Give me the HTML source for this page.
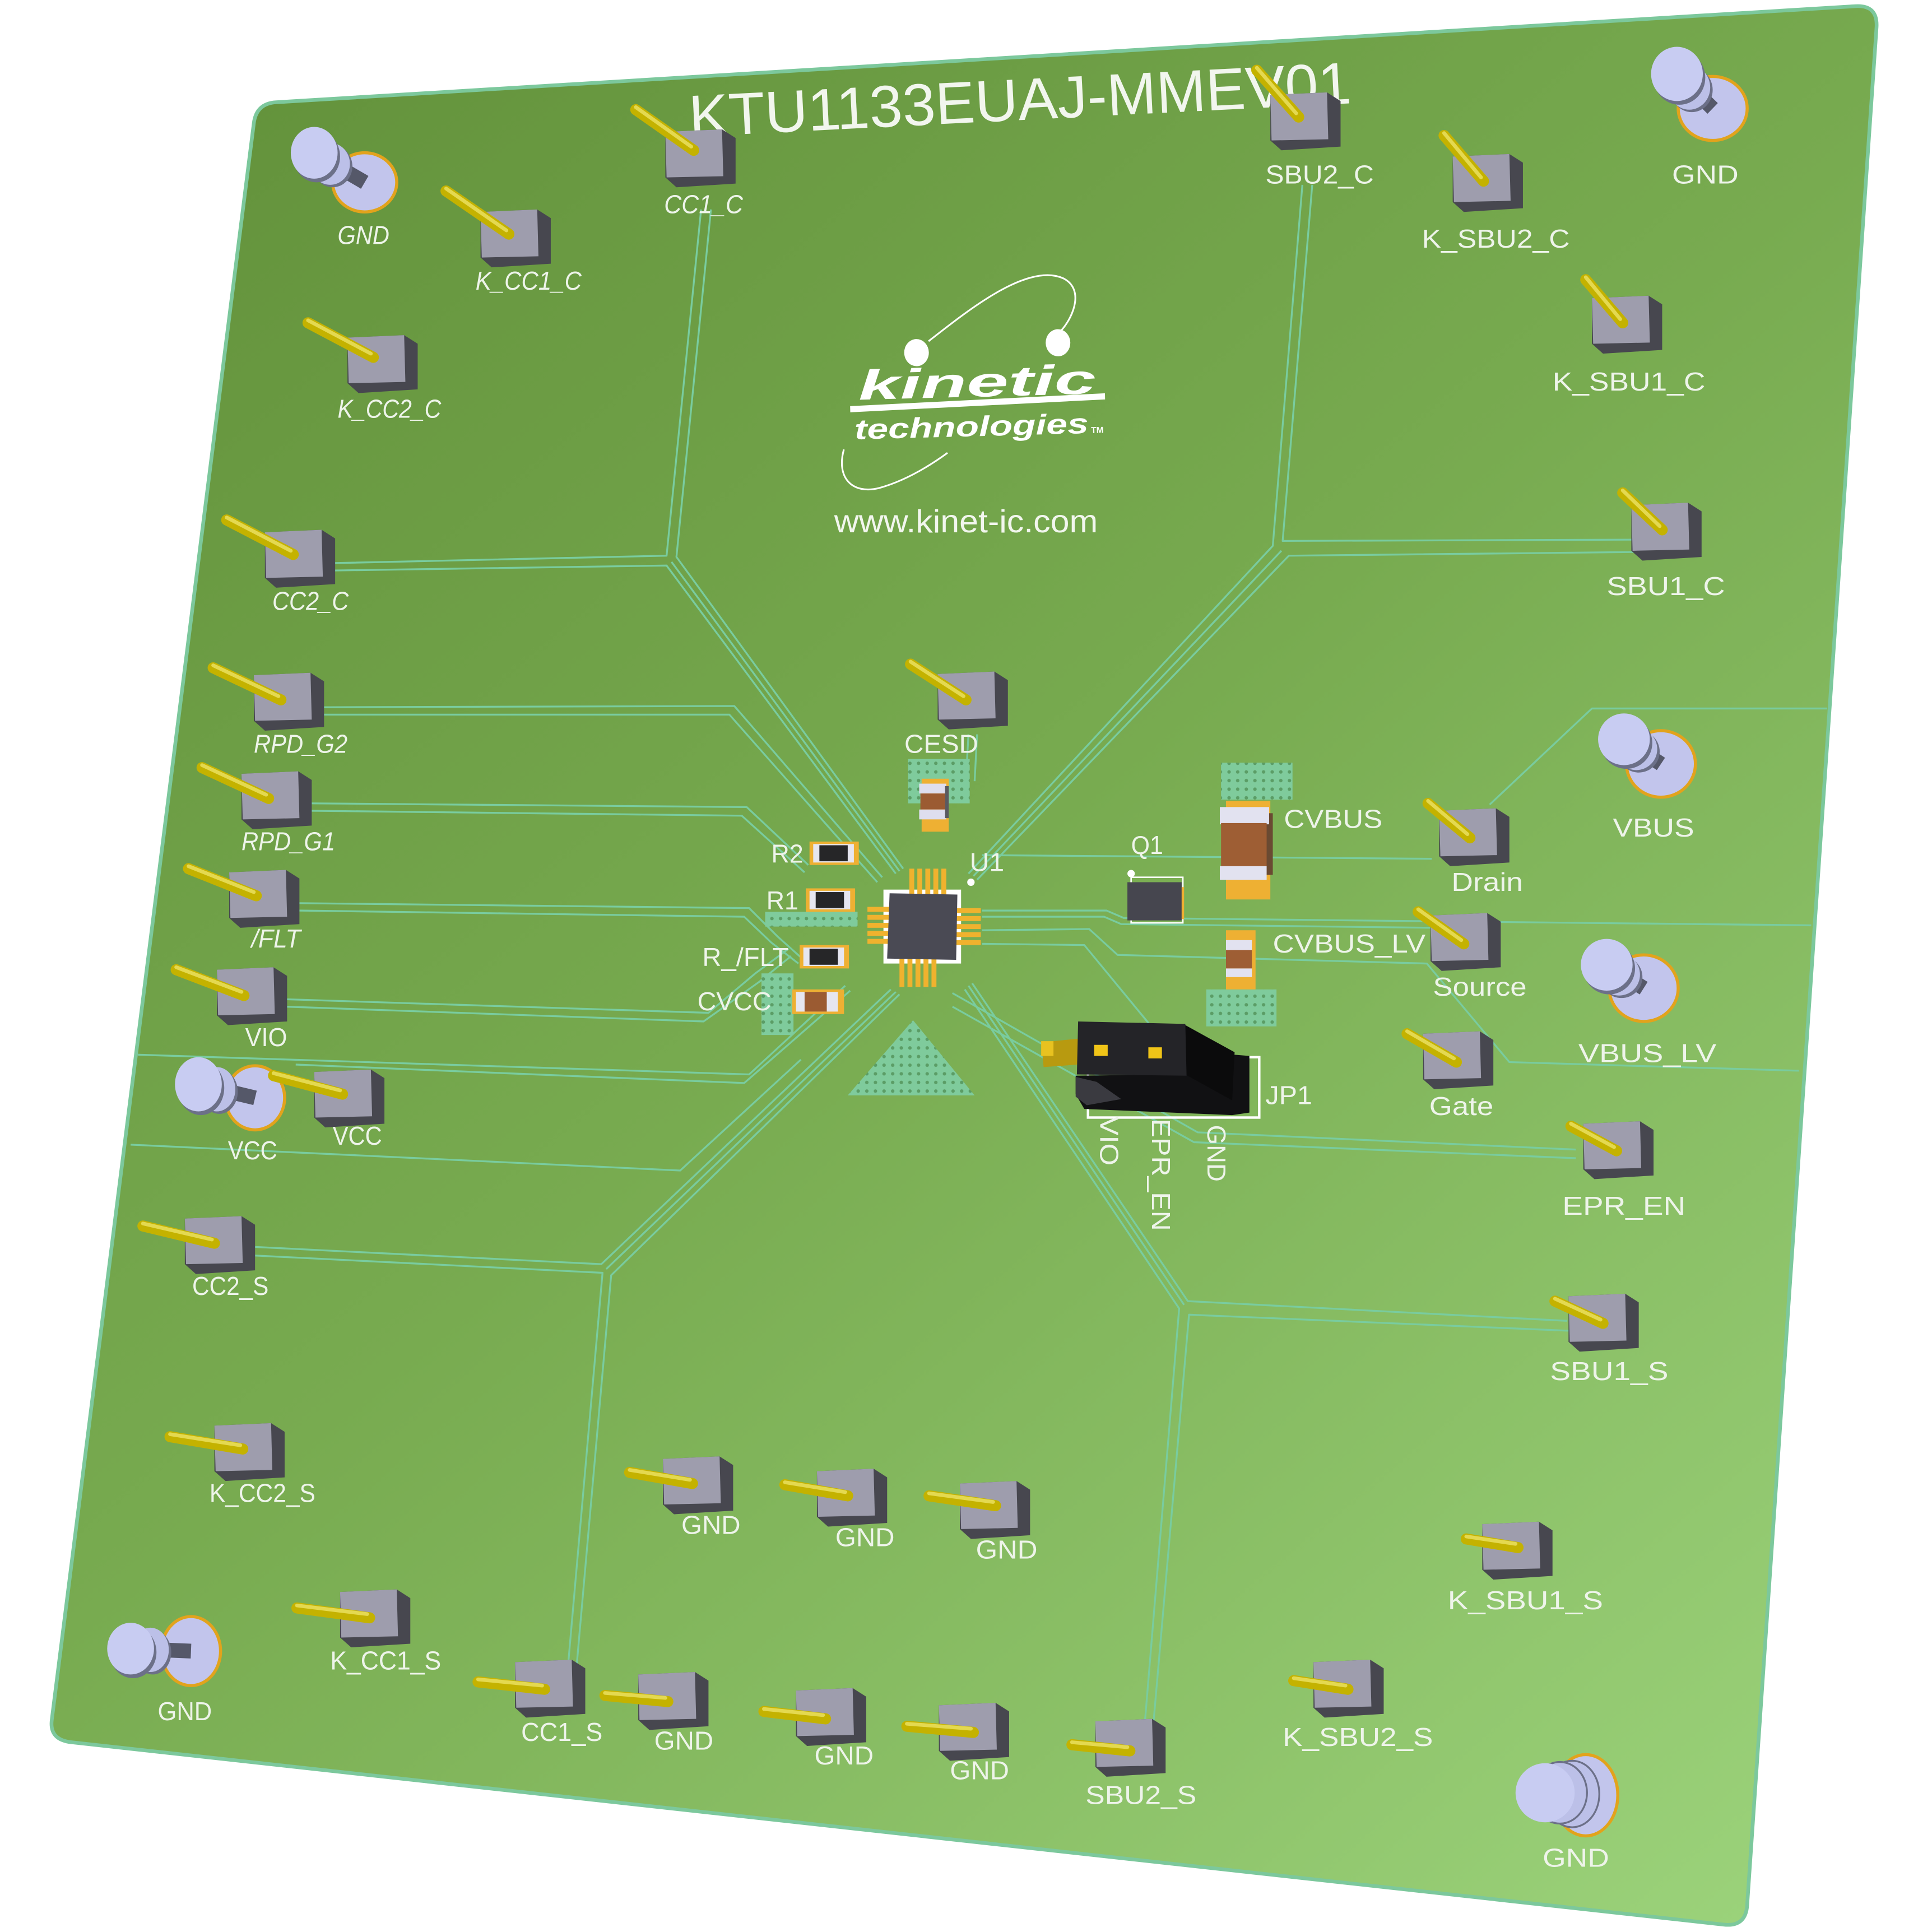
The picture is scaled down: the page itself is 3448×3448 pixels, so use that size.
<!DOCTYPE html>
<html>
<head>
<meta charset="utf-8">
<style>
html,body{margin:0;padding:0;background:#ffffff;}
svg{display:block;}
text{font-family:"Liberation Sans",Arial,sans-serif;}
.lb{fill:#eef4ea;font-size:21px;text-anchor:middle;}
.it{font-style:italic;}
.tr{fill:none;stroke:#79cc9f;stroke-width:1.5;stroke-linejoin:round;}
.pin{stroke:#c4b200;stroke-width:9;stroke-linecap:round;}
.pinh{stroke:#e4d950;stroke-width:3;stroke-linecap:round;}
</style>
</head>
<body>
<svg width="3448" height="3448" viewBox="0 0 1568 1568" xmlns="http://www.w3.org/2000/svg">
<defs>
<linearGradient id="bg" gradientUnits="userSpaceOnUse" x1="200" y1="90" x2="1420" y2="1560">
<stop offset="0" stop-color="#64933c"/>
<stop offset="0.45" stop-color="#78ab50"/>
<stop offset="1" stop-color="#9bd27a"/>
</linearGradient>
<pattern id="vp" width="7" height="7" patternUnits="userSpaceOnUse">
<rect width="7" height="7" fill="#7fcb9c"/>
<circle cx="3.5" cy="3.5" r="1.4" fill="#5b9d66"/>
</pattern>
<g id="hb">
<polygon points="0,2 46,0 57,7 57,44 9,47 0,39" fill="#47474f"/>
<polygon points="0,2 46,0 47,38 1,39" fill="#9e9dad"/>
</g>
</defs>

<!-- board -->
<path d="M 206,100 Q 208,84 224,83 L 1506,5 Q 1524,4 1523,22 L 1418,1546 Q 1417,1564 1399,1562 L 58,1414 Q 40,1412 42,1396 Z" fill="url(#bg)" stroke="#7cc89c" stroke-width="3"/>

<!-- traces -->
<g class="tr">
<polyline points="569,170 541,451 271,457"/>
<polyline points="577,170 549,452 733,705"/>
<polyline points="271,463 541,459 727,709"/>
<polyline points="545,456 730,707"/>
<polyline points="1057,150 1033,443 786,709"/>
<polyline points="1065,150 1041,439 1325,438"/>
<polyline points="1328,448 1046,451 793,714"/>
<polyline points="1040,447 790,711"/>
<polyline points="207,1012 488,1026 723,803"/>
<polyline points="207,1019 489,1033 461,1352"/>
<polyline points="468,1352 496,1035 730,807"/>
<polyline points="492,1030 727,805"/>
<polyline points="789,798 964,1056 1272,1072"/>
<polyline points="783,803 957,1062 929,1400"/>
<polyline points="936,1400 965,1067 1273,1080"/>
<polyline points="786,800 961,1059"/>
<polyline points="261,574 596,573 716,712"/>
<polyline points="261,580 592,580 712,716"/>
<polyline points="253,652 606,655 656,702"/>
<polyline points="253,658 602,662 653,708"/>
<polyline points="243,733 608,737 631,760 650,777"/>
<polyline points="243,739 604,744 626,765 648,782"/>
<polyline points="232,811 575,822 613,790 640,770"/>
<polyline points="232,817 571,829 616,797 642,776"/>
<polyline points="112,856 608,872 686,800"/>
<polyline points="240,864 604,879 690,804"/>
<polyline points="106,929 552,950 650,860"/>
<polyline points="797,694 1162,697"/>
<polyline points="797,739 898,739 912,745 1470,751"/>
<polyline points="797,744 896,744 910,750 1162,753"/>
<polyline points="797,755 884,754 907,775 1158,782 1225,862 1460,869"/>
<polyline points="797,766 880,767 936,835"/>
<polyline points="773,806 972,919 1279,933"/>
<polyline points="773,817 969,927 1279,940"/>
<polyline points="1209,653 1292,575 1483,575"/>
<polyline points="786,596 784,632"/>
<polyline points="793,596 791,634"/>
</g>

<!-- via patches -->
<rect x="737" y="616" width="50" height="36" fill="url(#vp)"/>
<rect x="991" y="619" width="58" height="30" fill="url(#vp)"/>
<rect x="979" y="803" width="57" height="30" fill="url(#vp)"/>
<polygon points="688,889 741,828 791,889" fill="url(#vp)"/>
<rect x="621" y="740" width="75" height="12" fill="url(#vp)"/>
<rect x="618" y="790" width="26" height="50" fill="url(#vp)"/>

<!-- title -->
<text x="560" y="111" transform="rotate(-2.9 560 111)" font-size="48" fill="#f2f6ee" textLength="538" lengthAdjust="spacingAndGlyphs">KTU1133EUAJ-MMEV01</text>

<!-- logo -->
<g fill="#ffffff" transform="rotate(-1.5 790 330)">
<path d="M 755,276 C 790,250 838,214 866,228 C 882,237 874,258 863,270" fill="none" stroke="#ffffff" stroke-width="1.4"/>
<path d="M 684,362 C 677,385 690,399 712,394 C 732,389 752,378 768,367" fill="none" stroke="#ffffff" stroke-width="1.4"/>
<ellipse cx="745" cy="285" rx="10" ry="11"/>
<ellipse cx="860" cy="280" rx="10" ry="11"/>
<text x="697" y="322" font-size="34" font-weight="bold" font-style="italic" textLength="193" lengthAdjust="spacingAndGlyphs">kinetic</text>
<polygon points="690,327 897,322 897,327 690,332"/>
<text x="693" y="354" font-size="23" font-weight="bold" font-style="italic" textLength="190" lengthAdjust="spacingAndGlyphs">technologies</text>
<text x="885" y="354" font-size="7" font-weight="bold">TM</text>
</g>
<text x="677" y="432" font-size="26" fill="#f2f6ee" textLength="214" lengthAdjust="spacingAndGlyphs">www.kinet-ic.com</text>

<!-- SMD parts -->
<!-- CESD cap -->
<rect x="748" y="632" width="22" height="43" fill="#eeb033"/>
<rect x="746" y="636" width="22" height="8" fill="#dedeee"/>
<rect x="747" y="644" width="20" height="13" fill="#9b5b32"/>
<rect x="746" y="657" width="22" height="8" fill="#dedeee"/>
<rect x="767" y="638" width="3" height="26" fill="#5a5a60"/>
<!-- R2 -->
<rect x="657" y="683" width="40" height="19" fill="#eeb033"/>
<rect x="660" y="685" width="33" height="15" fill="#e6e6f0"/>
<rect x="665" y="686" width="23" height="13" fill="#262628"/>
<!-- R1 -->
<rect x="654" y="721" width="40" height="19" fill="#eeb033"/>
<rect x="657" y="723" width="33" height="15" fill="#e6e6f0"/>
<rect x="662" y="724" width="23" height="13" fill="#262628"/>
<!-- R_/FLT -->
<rect x="649" y="767" width="40" height="19" fill="#eeb033"/>
<rect x="652" y="769" width="33" height="15" fill="#e6e6f0"/>
<rect x="657" y="770" width="23" height="13" fill="#262628"/>
<!-- CVCC -->
<rect x="643" y="803" width="42" height="20" fill="#eeb033"/>
<rect x="646" y="805" width="34" height="16" fill="#e6e6f0"/>
<rect x="653" y="805" width="18" height="16" fill="#9b5b32"/>
<!-- CVBUS -->
<rect x="995" y="650" width="36" height="80" fill="#eeb033"/>
<rect x="1027" y="660" width="6" height="50" fill="#6a4a32"/>
<rect x="990" y="655" width="40" height="14" fill="#e2e2f0"/>
<rect x="991" y="668" width="37" height="35" fill="#9e5e34"/>
<rect x="990" y="703" width="38" height="11" fill="#e2e2f0"/>
<!-- CVBUS_LV -->
<rect x="995" y="755" width="24" height="48" fill="#eeb033"/>
<rect x="995" y="763" width="21" height="9" fill="#e2e2f0"/>
<rect x="995" y="771" width="21" height="15" fill="#9e5e34"/>
<rect x="995" y="786" width="21" height="7" fill="#e2e2f0"/>
<!-- Q1 -->
<rect x="918" y="712" width="42" height="37" fill="none" stroke="#ffffff" stroke-width="1.2"/>
<rect x="955" y="720" width="6" height="26" fill="#eeb033"/>
<rect x="915" y="716" width="44" height="31" fill="#46464f"/>
<circle cx="918" cy="709" r="3" fill="#ffffff"/>

<!-- U1 -->
<rect x="717" y="722" width="63" height="60" fill="#ffffff"/>
<g fill="#f0b22e">
<rect x="738" y="705" width="4" height="21"/><rect x="744.5" y="705" width="4" height="21"/><rect x="751" y="705" width="4" height="21"/><rect x="757.5" y="705" width="4" height="21"/><rect x="764" y="705" width="4" height="21"/>
<rect x="730" y="778" width="4" height="23"/><rect x="736.5" y="778" width="4" height="23"/><rect x="743" y="778" width="4" height="23"/><rect x="749.5" y="778" width="4" height="23"/><rect x="756" y="778" width="4" height="23"/>
<rect x="704" y="736" width="20" height="4"/><rect x="704" y="742.5" width="20" height="4"/><rect x="704" y="749" width="20" height="4"/><rect x="704" y="755.5" width="20" height="4"/><rect x="704" y="762" width="20" height="4"/>
<rect x="775" y="737" width="21" height="4"/><rect x="775" y="743.5" width="21" height="4"/><rect x="775" y="750" width="21" height="4"/><rect x="775" y="756.5" width="21" height="4"/><rect x="775" y="763" width="21" height="4"/>
</g>
<polygon points="722,725 777,726 776,779 720,778" fill="#4a4a54"/>
<circle cx="788" cy="716" r="3" fill="#ffffff"/>

<!-- JP1 -->
<rect x="883" y="858" width="139" height="49" fill="none" stroke="#ffffff" stroke-width="2"/>
<polygon points="845,846 875,843 875,864 847,866" fill="#b89a10"/>
<rect x="845" y="845" width="10" height="12" fill="#e8c220"/>
<polygon points="873,873 962,872 1002,856 1014,857 1014,903 1000,905 880,900 873,888" fill="#111113"/>
<polygon points="962,832 1002,854 1000,893 962,872" fill="#0b0b0c"/>
<polygon points="873,874 890,878 910,892 882,897 873,890" fill="#3a3a40"/>
<polygon points="875,829 962,831 963,873 874,872" fill="#242428"/>
<rect x="888" y="848" width="11" height="9" fill="#f0c418"/>
<rect x="932" y="850" width="11" height="9" fill="#f0c418"/>

<!-- posts -->
<g>
<!-- TL GND -->
<ellipse cx="296" cy="148" rx="26" ry="24" fill="#c2c5ec" stroke="#e2a31c" stroke-width="2.5"/>
<line x1="296" y1="148" x2="255" y2="124" stroke="#555869" stroke-width="12"/>
<ellipse cx="270" cy="135" rx="16" ry="17" fill="#6c7088"/>
<ellipse cx="268" cy="133" rx="16" ry="17" fill="#bcc0e8"/>
<ellipse cx="257" cy="127" rx="19" ry="21" fill="#6c7088"/>
<ellipse cx="255" cy="124" rx="19" ry="21" fill="#c8ccf2"/>
<!-- TR GND -->
<ellipse cx="1390" cy="88" rx="28" ry="26" fill="#c2c5ec" stroke="#e2a31c" stroke-width="2.5"/>
<line x1="1390" y1="88" x2="1361" y2="60" stroke="#555869" stroke-width="12"/>
<ellipse cx="1373" cy="73" rx="17" ry="18" fill="#6c7088"/>
<ellipse cx="1371" cy="71" rx="17" ry="18" fill="#bcc0e8"/>
<ellipse cx="1363" cy="63" rx="21" ry="22" fill="#6c7088"/>
<ellipse cx="1361" cy="60" rx="21" ry="22" fill="#c8ccf2"/>
<!-- VBUS -->
<ellipse cx="1348" cy="620" rx="28" ry="27" fill="#c2c5ec" stroke="#e2a31c" stroke-width="2.5"/>
<line x1="1348" y1="620" x2="1318" y2="600" stroke="#555869" stroke-width="12"/>
<ellipse cx="1330" cy="610" rx="17" ry="17" fill="#6c7088"/>
<ellipse cx="1328" cy="608" rx="17" ry="17" fill="#bcc0e8"/>
<ellipse cx="1320" cy="603" rx="21" ry="21" fill="#6c7088"/>
<ellipse cx="1318" cy="600" rx="21" ry="21" fill="#c8ccf2"/>
<!-- VBUS_LV -->
<ellipse cx="1334" cy="802" rx="28" ry="27" fill="#c2c5ec" stroke="#e2a31c" stroke-width="2.5"/>
<line x1="1334" y1="802" x2="1304" y2="783" stroke="#555869" stroke-width="12"/>
<ellipse cx="1316" cy="793" rx="17" ry="17" fill="#6c7088"/>
<ellipse cx="1314" cy="791" rx="17" ry="17" fill="#bcc0e8"/>
<ellipse cx="1306" cy="786" rx="21" ry="21" fill="#6c7088"/>
<ellipse cx="1304" cy="783" rx="21" ry="21" fill="#c8ccf2"/>
<!-- VCC -->
<ellipse cx="207" cy="891" rx="24" ry="26" fill="#c2c5ec" stroke="#e2a31c" stroke-width="2.5"/>
<line x1="207" y1="891" x2="161" y2="880" stroke="#555869" stroke-width="12"/>
<ellipse cx="178" cy="886" rx="15" ry="18" fill="#6c7088"/>
<ellipse cx="176" cy="884" rx="15" ry="18" fill="#bcc0e8"/>
<ellipse cx="163" cy="883" rx="19" ry="22" fill="#6c7088"/>
<ellipse cx="161" cy="880" rx="19" ry="22" fill="#c8ccf2"/>
<!-- BL GND -->
<ellipse cx="155" cy="1340" rx="24" ry="28" fill="#c2c5ec" stroke="#e2a31c" stroke-width="2.5"/>
<line x1="155" y1="1340" x2="106" y2="1338" stroke="#555869" stroke-width="12"/>
<ellipse cx="124" cy="1341" rx="15" ry="18" fill="#6c7088"/>
<ellipse cx="122" cy="1339" rx="15" ry="18" fill="#bcc0e8"/>
<ellipse cx="108" cy="1341" rx="19" ry="21" fill="#6c7088"/>
<ellipse cx="106" cy="1338" rx="19" ry="21" fill="#c8ccf2"/>
<!-- BR GND -->
<ellipse cx="1287" cy="1457" rx="26" ry="33" fill="#c2c5ec" stroke="#e2a31c" stroke-width="2.5"/>
<ellipse cx="1276" cy="1456" rx="22" ry="27" fill="#bcc0e8" stroke="#6c7088" stroke-width="1.5"/>
<ellipse cx="1266" cy="1455" rx="22" ry="25" fill="#bcc0e8" stroke="#6c7088" stroke-width="1.5"/>
<ellipse cx="1254" cy="1455" rx="24" ry="24" fill="#c8ccf2"/>
</g>

<!-- headers -->
<g>
<use href="#hb" x="390" y="170"/>
<use href="#hb" x="540" y="105"/>
<use href="#hb" x="282" y="272"/>
<use href="#hb" x="215" y="430"/>
<use href="#hb" x="206" y="546"/>
<use href="#hb" x="196" y="626"/>
<use href="#hb" x="186" y="706"/>
<use href="#hb" x="176" y="785"/>
<use href="#hb" x="255" y="868"/>
<use href="#hb" x="150" y="987"/>
<use href="#hb" x="174" y="1155"/>
<use href="#hb" x="276" y="1290"/>
<use href="#hb" x="418" y="1347"/>
<use href="#hb" x="518" y="1357"/>
<use href="#hb" x="646" y="1370"/>
<use href="#hb" x="762" y="1382"/>
<use href="#hb" x="889" y="1395"/>
<use href="#hb" x="1066" y="1347"/>
<use href="#hb" x="1203" y="1235"/>
<use href="#hb" x="1273" y="1050"/>
<use href="#hb" x="1285" y="910"/>
<use href="#hb" x="1155" y="837"/>
<use href="#hb" x="1161" y="741"/>
<use href="#hb" x="1168" y="656"/>
<use href="#hb" x="1324" y="408"/>
<use href="#hb" x="1292" y="240"/>
<use href="#hb" x="1179" y="125"/>
<use href="#hb" x="1031" y="75"/>
<use href="#hb" x="761" y="545"/>
<use href="#hb" x="538" y="1182"/>
<use href="#hb" x="663" y="1192"/>
<use href="#hb" x="779" y="1202"/>
</g>

<!-- pins -->
<g>
<line class="pin" x1="362" y1="155" x2="413" y2="190"/><line class="pinh" x1="362" y1="153" x2="411" y2="187"/>
<line class="pin" x1="516" y1="89" x2="563" y2="122"/><line class="pinh" x1="516" y1="87" x2="561" y2="119"/>
<line class="pin" x1="250" y1="262" x2="303" y2="290"/><line class="pinh" x1="250" y1="260" x2="301" y2="287"/>
<line class="pin" x1="184" y1="422" x2="238" y2="450"/><line class="pinh" x1="184" y1="420" x2="236" y2="447"/>
<line class="pin" x1="173" y1="542" x2="228" y2="568"/><line class="pinh" x1="173" y1="540" x2="226" y2="565"/>
<line class="pin" x1="164" y1="623" x2="218" y2="648"/><line class="pinh" x1="164" y1="621" x2="216" y2="645"/>
<line class="pin" x1="153" y1="705" x2="208" y2="727"/><line class="pinh" x1="153" y1="703" x2="206" y2="724"/>
<line class="pin" x1="143" y1="787" x2="198" y2="808"/><line class="pinh" x1="143" y1="785" x2="196" y2="805"/>
<line class="pin" x1="222" y1="873" x2="278" y2="888"/><line class="pinh" x1="222" y1="871" x2="276" y2="885"/>
<line class="pin" x1="116" y1="995" x2="174" y2="1009"/><line class="pinh" x1="116" y1="993" x2="172" y2="1006"/>
<line class="pin" x1="138" y1="1166" x2="197" y2="1176"/><line class="pinh" x1="138" y1="1164" x2="195" y2="1173"/>
<line class="pin" x1="241" y1="1305" x2="300" y2="1313"/><line class="pinh" x1="241" y1="1303" x2="298" y2="1310"/>
<line class="pin" x1="388" y1="1365" x2="442" y2="1371"/><line class="pinh" x1="388" y1="1363" x2="440" y2="1368"/>
<line class="pin" x1="491" y1="1376" x2="542" y2="1381"/><line class="pinh" x1="491" y1="1374" x2="540" y2="1378"/>
<line class="pin" x1="620" y1="1389" x2="670" y2="1395"/><line class="pinh" x1="620" y1="1387" x2="668" y2="1392"/>
<line class="pin" x1="736" y1="1401" x2="790" y2="1406"/><line class="pinh" x1="736" y1="1399" x2="788" y2="1403"/>
<line class="pin" x1="870" y1="1416" x2="917" y2="1421"/><line class="pinh" x1="870" y1="1414" x2="915" y2="1418"/>
<line class="pin" x1="1050" y1="1364" x2="1094" y2="1371"/><line class="pinh" x1="1050" y1="1362" x2="1092" y2="1368"/>
<line class="pin" x1="1190" y1="1249" x2="1232" y2="1256"/><line class="pinh" x1="1190" y1="1247" x2="1230" y2="1253"/>
<line class="pin" x1="1262" y1="1056" x2="1301" y2="1074"/><line class="pinh" x1="1262" y1="1054" x2="1299" y2="1071"/>
<line class="pin" x1="1275" y1="914" x2="1312" y2="934"/><line class="pinh" x1="1275" y1="912" x2="1310" y2="931"/>
<line class="pin" x1="1142" y1="839" x2="1182" y2="862"/><line class="pinh" x1="1142" y1="837" x2="1180" y2="859"/>
<line class="pin" x1="1151" y1="740" x2="1188" y2="766"/><line class="pinh" x1="1151" y1="738" x2="1186" y2="763"/>
<line class="pin" x1="1159" y1="652" x2="1193" y2="680"/><line class="pinh" x1="1159" y1="650" x2="1191" y2="677"/>
<line class="pin" x1="1317" y1="400" x2="1349" y2="430"/><line class="pinh" x1="1317" y1="398" x2="1347" y2="427"/>
<line class="pin" x1="1287" y1="227" x2="1317" y2="262"/><line class="pinh" x1="1287" y1="225" x2="1315" y2="259"/>
<line class="pin" x1="1172" y1="110" x2="1204" y2="147"/><line class="pinh" x1="1172" y1="108" x2="1202" y2="144"/>
<line class="pin" x1="1020" y1="57" x2="1054" y2="95"/><line class="pinh" x1="1020" y1="55" x2="1052" y2="92"/>
<line class="pin" x1="739" y1="539" x2="784" y2="568"/><line class="pinh" x1="739" y1="537" x2="782" y2="565"/>
<line class="pin" x1="511" y1="1195" x2="562" y2="1204"/><line class="pinh" x1="511" y1="1193" x2="560" y2="1201"/>
<line class="pin" x1="637" y1="1205" x2="688" y2="1214"/><line class="pinh" x1="637" y1="1203" x2="686" y2="1211"/>
<line class="pin" x1="754" y1="1214" x2="808" y2="1222"/><line class="pinh" x1="754" y1="1212" x2="806" y2="1219"/>
</g>

<!-- labels -->
<g class="lb">
<text class="it" x="295" y="198" textLength="42" lengthAdjust="spacingAndGlyphs">GND</text>
<text class="it" x="429" y="235" textLength="86" lengthAdjust="spacingAndGlyphs">K_CC1_C</text>
<text class="it" x="571" y="173" textLength="64" lengthAdjust="spacingAndGlyphs">CC1_C</text>
<text class="it" x="316" y="339" textLength="84" lengthAdjust="spacingAndGlyphs">K_CC2_C</text>
<text class="it" x="252" y="495" textLength="62" lengthAdjust="spacingAndGlyphs">CC2_C</text>
<text class="it" x="244" y="611" textLength="76" lengthAdjust="spacingAndGlyphs">RPD_G2</text>
<text class="it" x="234" y="690" textLength="76" lengthAdjust="spacingAndGlyphs">RPD_G1</text>
<text class="it" x="224" y="769" textLength="40" lengthAdjust="spacingAndGlyphs">/FLT</text>
<text x="216" y="849" textLength="34" lengthAdjust="spacingAndGlyphs">VIO</text>
<text x="205" y="941" textLength="40" lengthAdjust="spacingAndGlyphs">VCC</text>
<text x="290" y="929" textLength="40" lengthAdjust="spacingAndGlyphs">VCC</text>
<text x="187" y="1051" textLength="62" lengthAdjust="spacingAndGlyphs">CC2_S</text>
<text x="213" y="1219" textLength="86" lengthAdjust="spacingAndGlyphs">K_CC2_S</text>
<text x="150" y="1396" textLength="44" lengthAdjust="spacingAndGlyphs">GND</text>
<text x="313" y="1355" textLength="90" lengthAdjust="spacingAndGlyphs">K_CC1_S</text>
<text x="456" y="1413" textLength="66" lengthAdjust="spacingAndGlyphs">CC1_S</text>
<text x="555" y="1420" textLength="48" lengthAdjust="spacingAndGlyphs">GND</text>
<text x="685" y="1432" textLength="48" lengthAdjust="spacingAndGlyphs">GND</text>
<text x="795" y="1444" textLength="48" lengthAdjust="spacingAndGlyphs">GND</text>
<text x="926" y="1464" textLength="90" lengthAdjust="spacingAndGlyphs">SBU2_S</text>
<text x="1102" y="1417" textLength="122" lengthAdjust="spacingAndGlyphs">K_SBU2_S</text>
<text x="1279" y="1515" textLength="54" lengthAdjust="spacingAndGlyphs">GND</text>
<text x="1238" y="1306" textLength="126" lengthAdjust="spacingAndGlyphs">K_SBU1_S</text>
<text x="1306" y="1120" textLength="96" lengthAdjust="spacingAndGlyphs">SBU1_S</text>
<text x="1318" y="986" textLength="100" lengthAdjust="spacingAndGlyphs">EPR_EN</text>
<text x="1186" y="905" textLength="52" lengthAdjust="spacingAndGlyphs">Gate</text>
<text x="1337" y="862" textLength="112" lengthAdjust="spacingAndGlyphs">VBUS_LV</text>
<text x="1201" y="808" textLength="76" lengthAdjust="spacingAndGlyphs">Source</text>
<text x="1095" y="773" textLength="124" lengthAdjust="spacingAndGlyphs">CVBUS_LV</text>
<text x="1207" y="723" textLength="58" lengthAdjust="spacingAndGlyphs">Drain</text>
<text x="1342" y="679" textLength="66" lengthAdjust="spacingAndGlyphs">VBUS</text>
<text x="1082" y="672" textLength="80" lengthAdjust="spacingAndGlyphs">CVBUS</text>
<text x="931" y="693" textLength="26" lengthAdjust="spacingAndGlyphs">Q1</text>
<text x="801" y="707" textLength="28" lengthAdjust="spacingAndGlyphs">U1</text>
<text x="764" y="611" textLength="60" lengthAdjust="spacingAndGlyphs">CESD</text>
<text x="639" y="700" textLength="26" lengthAdjust="spacingAndGlyphs">R2</text>
<text x="635" y="738" textLength="26" lengthAdjust="spacingAndGlyphs">R1</text>
<text x="605" y="784" textLength="70" lengthAdjust="spacingAndGlyphs">R_/FLT</text>
<text x="596" y="820" textLength="60" lengthAdjust="spacingAndGlyphs">CVCC</text>
<text x="1046" y="896" textLength="38" lengthAdjust="spacingAndGlyphs">JP1</text>
<text x="1352" y="483" textLength="96" lengthAdjust="spacingAndGlyphs">SBU1_C</text>
<text x="1322" y="317" textLength="124" lengthAdjust="spacingAndGlyphs">K_SBU1_C</text>
<text x="1214" y="201" textLength="120" lengthAdjust="spacingAndGlyphs">K_SBU2_C</text>
<text x="1071" y="149" textLength="88" lengthAdjust="spacingAndGlyphs">SBU2_C</text>
<text x="1384" y="149" textLength="54" lengthAdjust="spacingAndGlyphs">GND</text>
<text x="577" y="1245" textLength="48" lengthAdjust="spacingAndGlyphs">GND</text>
<text x="702" y="1255" textLength="48" lengthAdjust="spacingAndGlyphs">GND</text>
<text x="817" y="1265" textLength="50" lengthAdjust="spacingAndGlyphs">GND</text>
</g>
<g fill="#eef4ea" font-size="21">
<text transform="translate(893,906) rotate(90)" textLength="40" lengthAdjust="spacingAndGlyphs">VIO</text>
<text transform="translate(935,908) rotate(90)" textLength="91" lengthAdjust="spacingAndGlyphs">EPR_EN</text>
<text transform="translate(980,913) rotate(90)" textLength="46" lengthAdjust="spacingAndGlyphs">GND</text>
</g>
</svg>
</body>
</html>
